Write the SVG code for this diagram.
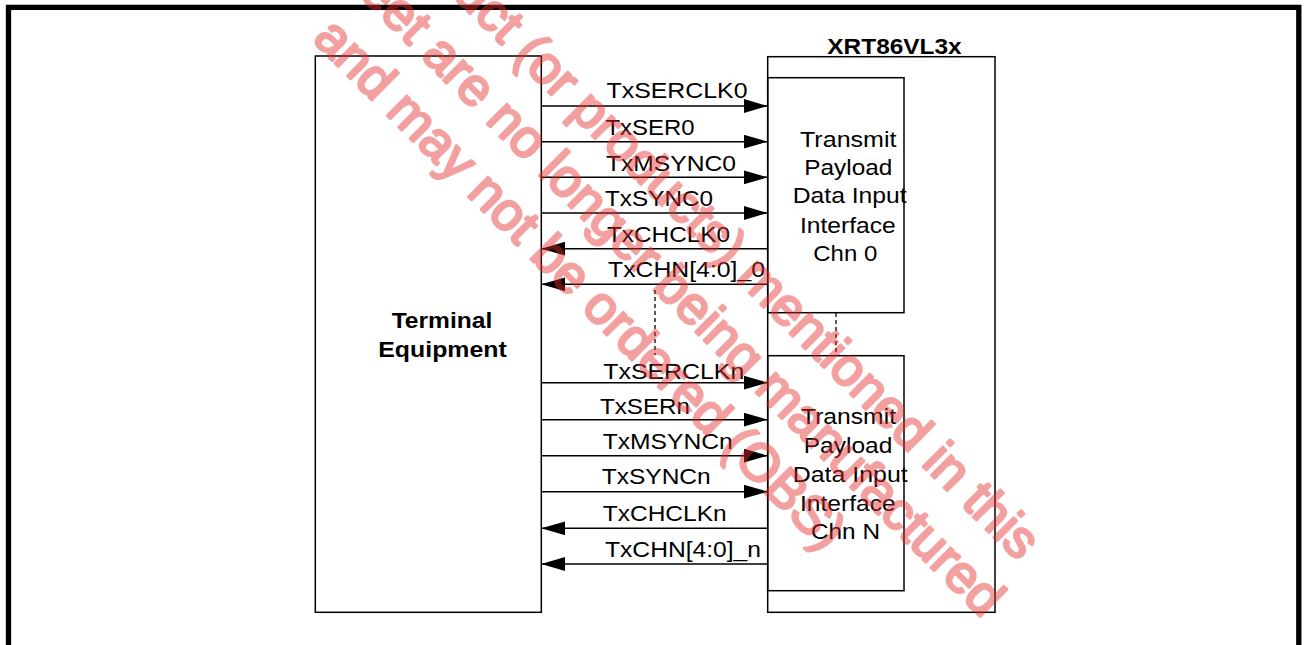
<svg xmlns="http://www.w3.org/2000/svg" width="1304" height="645" viewBox="0 0 1304 645">
<style>
.box{fill:none;stroke:#000;stroke-width:1.5}
.ln{fill:none;stroke:#000;stroke-width:1.5}
.dash{fill:none;stroke:#000;stroke-width:1.3;stroke-dasharray:4 3}
.lbl{font-family:"Liberation Sans",Arial,sans-serif;font-size:21.5px;fill:#000}
.bold{font-family:"Liberation Sans",Arial,sans-serif;font-size:21.5px;font-weight:bold;fill:#000}
.wm{font-family:"Liberation Sans",Arial,sans-serif;font-size:53px;fill:#e62e2e;stroke:#e62e2e;stroke-width:2.6;stroke-linejoin:round;text-anchor:middle}
</style>
<defs>
<marker id="ah" viewBox="0 0 24 14" refX="24" refY="7" markerWidth="24" markerHeight="14" markerUnits="userSpaceOnUse" orient="auto">
<path d="M0,0 L24,7 L0,14 Z" fill="#000"/>
</marker>
</defs>
<rect width="1304" height="645" fill="#fff"/>
<g id="frame">
<path d="M8.5,660 V7.3 H1298.8 V660" fill="none" stroke="#000" stroke-width="5.3"/>
</g>
<g id="terminal">
<rect class="box" x="315.3" y="56" width="226" height="556.3"/>
<text class="bold" x="391.7" y="328.3" textLength="100.6" lengthAdjust="spacingAndGlyphs">Terminal</text>
<text class="bold" x="378.3" y="356.7" textLength="128.4" lengthAdjust="spacingAndGlyphs">Equipment</text>
</g>
<g id="xrt">
<rect class="box" x="767.7" y="56.7" width="227.3" height="555.6"/>
<text class="bold" x="827.3" y="54" textLength="134.4" lengthAdjust="spacingAndGlyphs">XRT86VL3x</text>
</g>
<g id="chn0">
<rect class="box" x="767.7" y="77.7" width="136.3" height="235"/>
<text class="lbl" x="800" y="147.3" textLength="96.5" lengthAdjust="spacingAndGlyphs">Transmit</text>
<text class="lbl" x="804.3" y="175" textLength="88" lengthAdjust="spacingAndGlyphs">Payload</text>
<text class="lbl" x="792.7" y="203.3" textLength="114" lengthAdjust="spacingAndGlyphs">Data Input</text>
<text class="lbl" x="800" y="232.7" textLength="95.7" lengthAdjust="spacingAndGlyphs">Interface</text>
<text class="lbl" x="813.3" y="261" textLength="64" lengthAdjust="spacingAndGlyphs">Chn 0</text>
</g>
<g id="chnN">
<rect class="box" x="767.7" y="355.7" width="136.3" height="235"/>
<text class="lbl" x="801" y="424.3" textLength="95" lengthAdjust="spacingAndGlyphs">Transmit</text>
<text class="lbl" x="803.7" y="453.3" textLength="88.6" lengthAdjust="spacingAndGlyphs">Payload</text>
<text class="lbl" x="792.7" y="482.3" textLength="115" lengthAdjust="spacingAndGlyphs">Data Input</text>
<text class="lbl" x="800" y="511" textLength="95.7" lengthAdjust="spacingAndGlyphs">Interface</text>
<text class="lbl" x="811" y="539" textLength="69" lengthAdjust="spacingAndGlyphs">Chn N</text>
</g>
<g id="connectors">
<line class="ln" x1="541.3" y1="106" x2="767.7" y2="106" marker-end="url(#ah)"/>
<line class="ln" x1="541.3" y1="141.7" x2="767.7" y2="141.7" marker-end="url(#ah)"/>
<line class="ln" x1="541.3" y1="177.3" x2="767.7" y2="177.3" marker-end="url(#ah)"/>
<line class="ln" x1="541.3" y1="213" x2="767.7" y2="213" marker-end="url(#ah)"/>
<line class="ln" x1="767.7" y1="248.7" x2="541.3" y2="248.7" marker-end="url(#ah)"/>
<line class="ln" x1="767.7" y1="284.3" x2="541.3" y2="284.3" marker-end="url(#ah)"/>
<line class="ln" x1="541.3" y1="382.7" x2="767.7" y2="382.7" marker-end="url(#ah)"/>
<line class="ln" x1="541.3" y1="419.7" x2="767.7" y2="419.7" marker-end="url(#ah)"/>
<line class="ln" x1="541.3" y1="455.7" x2="767.7" y2="455.7" marker-end="url(#ah)"/>
<line class="ln" x1="541.3" y1="491.7" x2="767.7" y2="491.7" marker-end="url(#ah)"/>
<line class="ln" x1="767.7" y1="528.3" x2="541.3" y2="528.3" marker-end="url(#ah)"/>
<line class="ln" x1="767.7" y1="564" x2="541.3" y2="564" marker-end="url(#ah)"/>
<line class="dash" x1="655" y1="290" x2="655" y2="355"/>
<line class="dash" x1="836" y1="313" x2="836" y2="355"/>
</g>
<g id="labels">
<text class="lbl" x="606.5" y="98" textLength="141" lengthAdjust="spacingAndGlyphs">TxSERCLK0</text>
<text class="lbl" x="605.5" y="134.5" textLength="89" lengthAdjust="spacingAndGlyphs">TxSER0</text>
<text class="lbl" x="606" y="170.5" textLength="130" lengthAdjust="spacingAndGlyphs">TxMSYNC0</text>
<text class="lbl" x="605" y="205.5" textLength="108" lengthAdjust="spacingAndGlyphs">TxSYNC0</text>
<text class="lbl" x="607" y="241.5" textLength="123" lengthAdjust="spacingAndGlyphs">TxCHCLK0</text>
<text class="lbl" x="608" y="277.3" textLength="157" lengthAdjust="spacingAndGlyphs">TxCHN[4:0]_0</text>
<text class="lbl" x="603.3" y="379" textLength="141" lengthAdjust="spacingAndGlyphs">TxSERCLKn</text>
<text class="lbl" x="600" y="414" textLength="90" lengthAdjust="spacingAndGlyphs">TxSERn</text>
<text class="lbl" x="602.7" y="449.3" textLength="130" lengthAdjust="spacingAndGlyphs">TxMSYNCn</text>
<text class="lbl" x="601.7" y="484.3" textLength="109" lengthAdjust="spacingAndGlyphs">TxSYNCn</text>
<text class="lbl" x="602.7" y="520.7" textLength="124" lengthAdjust="spacingAndGlyphs">TxCHCLKn</text>
<text class="lbl" x="605" y="556.7" textLength="156" lengthAdjust="spacingAndGlyphs">TxCHN[4:0]_n</text>
</g>
<g id="watermark" opacity="0.45">
<text class="wm" transform="translate(660.1,203.8) rotate(45)">The product (or products) mentioned in this</text>
<text class="wm" transform="translate(613.7,250.3) rotate(45)">datasheet are no longer being manufactured</text>
<text class="wm" transform="translate(567.7,296.2) rotate(45)">and may not be ordered (OBS)</text>
</g>
</svg>
